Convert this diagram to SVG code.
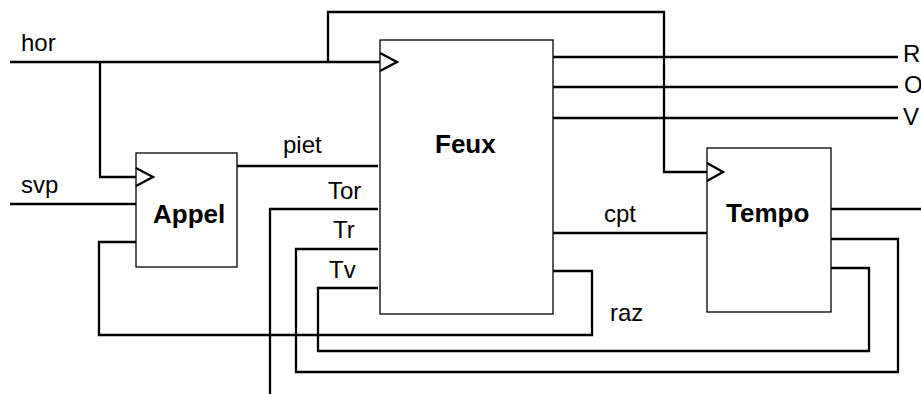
<svg xmlns="http://www.w3.org/2000/svg" width="921" height="394" viewBox="0 0 921 394">
<style>
.box{fill:#fff;stroke:#000;stroke-width:1.3}
.w{fill:none;stroke:#000;stroke-width:2.3;stroke-linejoin:miter}
.t{font-family:"Liberation Sans",Arial,sans-serif;font-size:24px;fill:#000}
.b{font-family:"Liberation Sans",Arial,sans-serif;font-size:26px;font-weight:bold;fill:#000}
</style>
<rect width="921" height="394" fill="#fff"/>
<g id="Appel">
<rect class="box" x="136" y="153" width="101" height="114"/>
<text class="b" x="153" y="223">Appel</text>
</g>
<g id="Feux">
<rect class="box" x="380" y="40" width="173" height="274"/>
<text class="b" x="435" y="153">Feux</text>
</g>
<g id="Tempo">
<rect class="box" x="707" y="148" width="124" height="164"/>
<text class="b" x="726" y="222">Tempo</text>
</g>
<g id="connectors">
<path class="w" d="M10,62 H380"/>
<path class="w" d="M380,53 L397,62 L380,71"/>
<path class="w" d="M100,62 V177 H136"/>
<path class="w" d="M136,168 L153,177 L136,186"/>
<path class="w" d="M328,62 V12 H664 V172 H707"/>
<path class="w" d="M707,163 L723,172 L707,181"/>
<path class="w" d="M10,204 H136"/>
<path class="w" d="M237,166 H378"/>
<path class="w" d="M270,394 V209 H378"/>
<path class="w" d="M378,249 H296 V372 H898 V239 H831"/>
<path class="w" d="M378,288 H318 V351 H869 V268 H831"/>
<path class="w" d="M553,271 H592 V335 H99 V242 H136"/>
<path class="w" d="M553,233 H707"/>
<path class="w" d="M553,57 H898"/>
<path class="w" d="M553,87 H898"/>
<path class="w" d="M553,118 H898"/>
<path class="w" d="M831,209 H921"/>
</g>
<g id="labels">
<text class="t" x="21" y="51">hor</text>
<text class="t" x="21" y="193">svp</text>
<text class="t" x="283" y="153">piet</text>
<text class="t" x="328" y="199">Tor</text>
<text class="t" x="333" y="238">Tr</text>
<text class="t" x="329" y="278">Tv</text>
<text class="t" x="604" y="222">cpt</text>
<text class="t" x="610" y="321">raz</text>
<text class="t" x="903" y="62">R</text>
<text class="t" x="904" y="93">O</text>
<text class="t" x="903" y="125">V</text>
</g>
</svg>
